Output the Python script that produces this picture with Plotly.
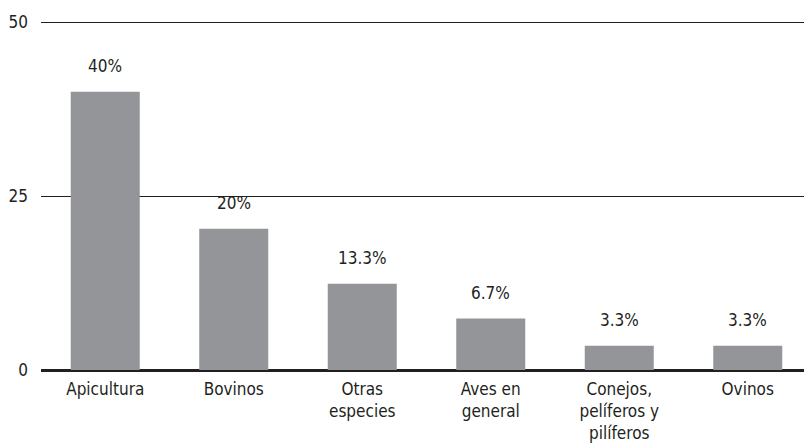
import plotly.graph_objects as go

categories = ["Apicultura", "Bovinos", "Otras<br>especies", "Aves en<br>general",
              "Conejos,<br>pelíferos y<br>pilíferos", "Ovinos"]
bar_values = [40, 20.3, 12.4, 7.4, 3.5, 3.5]
value_labels = ["40%", "20%", "13.3%", "6.7%", "3.3%", "3.3%"]
y_ticks = [0, 25, 50]

FONT = "Liberation Sans Narrow, Arial Narrow, DejaVu Sans Condensed, sans-serif"
TEXT = "#231f20"
FS = 17

fig = go.Figure()
fig.add_trace(go.Bar(
    x=categories, y=bar_values,
    marker=dict(color="#939598", line=dict(width=0)),
    hoverinfo="skip",
))

for c, v, t in zip(categories, bar_values, value_labels):
    fig.add_annotation(x=c, y=v, text=t, showarrow=False, yanchor="bottom",
                       yshift=14, font=dict(family=FONT, size=FS, color=TEXT))

# page body has an 8px margin, so the figure is sized to fit the 812x447 window
fig.update_layout(
    width=804, height=439,
    margin=dict(l=33, r=0, t=12, b=77, autoexpand=False),
    paper_bgcolor="white", plot_bgcolor="white",
    bargap=0.463,
    showlegend=False,
    font=dict(family=FONT, size=FS, color=TEXT),
)
fig.update_xaxes(showgrid=False, showline=False, ticks="", automargin=False,
                 ticklabelstandoff=7,
                 tickfont=dict(family=FONT, size=FS, color=TEXT))
fig.update_yaxes(range=[0, 50.3], tickvals=y_ticks, ticktext=[str(v) for v in y_ticks],
                 showgrid=True, gridcolor=TEXT, gridwidth=1, automargin=False,
                 zeroline=True, zerolinecolor=TEXT, zerolinewidth=3,
                 showline=False, ticks="", ticklabelstandoff=12,
                 tickfont=dict(family=FONT, size=FS, color=TEXT))

fig.write_html("out.html")
